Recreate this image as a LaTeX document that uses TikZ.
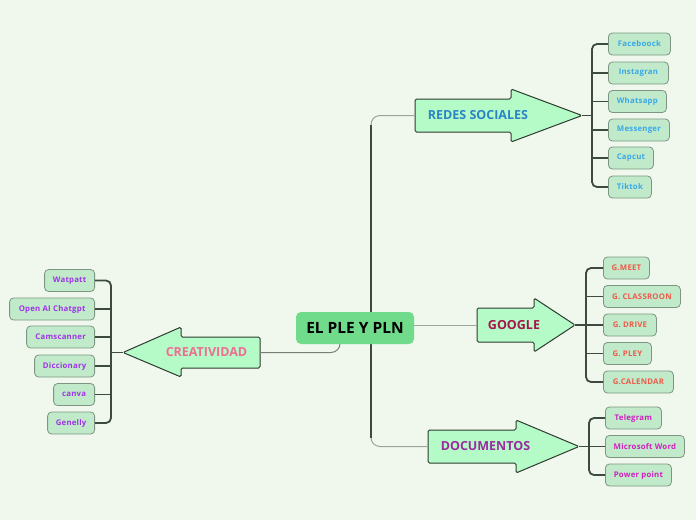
\documentclass[tikz,border=0pt]{standalone}
\usepackage{fontspec}
\setmainfont{Open Sans}
\newfontfamily\leaffont[LetterSpace=3]{Open Sans}
\definecolor{bg}{HTML}{F0F8ED}
\definecolor{arrowfill}{HTML}{B4FBC8}
\definecolor{arrowborder}{HTML}{2E3B30}
\definecolor{leaffill}{HTML}{C0EACA}
\definecolor{leafborder}{HTML}{7E9583}
\definecolor{cenfill}{HTML}{6FDB8B}
\definecolor{linkgray}{HTML}{9AA59C}
\definecolor{trunkdark}{HTML}{3C4A3F}
\definecolor{redescol}{HTML}{2B84C6}
\definecolor{redesleaf}{HTML}{3AA8E8}
\definecolor{googcol}{HTML}{A3174A}
\definecolor{googleaf}{HTML}{EE5A4A}
\definecolor{doccol}{HTML}{9C2AA0}
\definecolor{docleaf}{HTML}{D21FC0}
\definecolor{creacol}{HTML}{EE6E92}
\definecolor{crealeaf}{HTML}{A033E8}
\begin{document}
\begin{tikzpicture}[x=1pt,y=-1pt,
  leaf/.style={draw=leafborder, fill=leaffill, rounded corners=4pt, line width=0.8pt,
    minimum height=22pt, inner sep=0pt, font=\leaffont\fontsize{7.8}{9}\selectfont\bfseries},
  arrowshape/.style={draw=arrowborder, fill=arrowfill, line width=1pt, rounded corners=1.5pt},
  arrowtext/.style={font=\fontsize{12.5}{14}\selectfont\bfseries, inner sep=0pt},
  link/.style={draw=linkgray, line width=1pt},
  trunk/.style={draw=trunkdark, line width=2pt},
  brack/.style={draw=trunkdark, line width=1.8pt, rounded corners=5pt},
  stub/.style={draw=trunkdark, line width=1.8pt},
]
\useasboundingbox (0,0) rectangle (696,520);
\fill[bg] (0,0) rectangle (696,520);

% ---------- arrow shapes ----------
\draw[arrowshape] (415,99) -- (511,99) -- (511,89) -- (582,115.5) -- (511,142) -- (511,132) -- (415,132) -- cycle;
\draw[arrowshape] (477,308) -- (534,308) -- (534,298) -- (575,325) -- (534,352) -- (534,342) -- (477,342) -- cycle;
\draw[arrowshape] (428,430) -- (516,430) -- (516,420) -- (579,446.5) -- (516,473) -- (516,463) -- (428,463) -- cycle;
\draw[arrowshape] (260,337) -- (181,337) -- (181,327) -- (123,352.5) -- (181,377) -- (181,368) -- (260,368) -- cycle;

\node[arrowtext, text=redescol] (redes) at (478,115.5) {REDES SOCIALES};
\node[arrowtext, text=googcol] (goog) at (514,325) {GOOGLE};
\node[arrowtext, text=doccol] (docs) at (485.5,446.5) {DOCUMENTOS};
\node[arrowtext, text=creacol] (crea) at (206.5,352.5) {CREATIVIDAD};

\coordinate (redesin) at (415,115.5);
\coordinate (redestip) at (582,115.5);
\coordinate (googin) at (477,325);
\coordinate (googtip) at (575,325);
\coordinate (docin) at (428,446.5);
\coordinate (doctip) at (579,446.5);
\coordinate (creain) at (260,352.5);
\coordinate (creatip) at (123,352.5);

% ---------- trunk and links from centre ----------
\coordinate (tk) at (371,328);
\coordinate (cs) at (340,338);
\draw[link, rounded corners=9pt] (redesin) -| (tk) |- (docin);
\draw[trunk] ([yshift=-9pt]tk |- redesin) -- ([yshift=9pt]tk |- docin);
\draw[link, draw=trunkdark!70, rounded corners=9pt] (cs) |- (creain);

\node[fill=cenfill, rounded corners=5pt, minimum width=118pt, minimum height=32pt, inner sep=0pt,
  font=\fontsize{15.5}{17}\selectfont\bfseries] (cen) at (355,328) {EL PLE Y PLN};
\draw[link] (cen.east |- googin) -- (googin);

% ---------- REDES SOCIALES leaves ----------
\node[leaf, text=redesleaf, minimum width=62pt, anchor=west] (r1) at (608,44) {Faceboock};
\node[leaf, text=redesleaf, minimum width=60pt, anchor=west] (r2) at (608,73) {Instagran};
\node[leaf, text=redesleaf, minimum width=58pt, anchor=west] (r3) at (608,101.5) {Whatsapp};
\node[leaf, text=redesleaf, minimum width=61pt, anchor=west] (r4) at (608,130) {Messenger};
\node[leaf, text=redesleaf, minimum width=45pt, anchor=west] (r5) at (608,158) {Capcut};
\node[leaf, text=redesleaf, minimum width=43pt, anchor=west] (r6) at (608,187) {Tiktok};
\coordinate (rb) at (592,115.5);
\draw[stub] (redestip) -- (rb);
\draw[brack] (r1.west) -| (rb) |- (r6.west);
\foreach \n in {r2,r3,r4,r5} \draw[stub] (\n.west) -- (\n.west -| rb);

% ---------- GOOGLE leaves ----------
\node[leaf, text=googleaf, minimum width=46pt, anchor=west] (g1) at (603,268) {G.MEET};
\node[leaf, text=googleaf, minimum width=77pt, anchor=west] (g2) at (603,296.5) {G. CLASSROON};
\node[leaf, text=googleaf, minimum width=53pt, anchor=west] (g3) at (603,325) {G. DRIVE};
\node[leaf, text=googleaf, minimum width=48pt, anchor=west] (g4) at (603,353.5) {G. PLEY};
\node[leaf, text=googleaf, minimum width=70pt, anchor=west] (g5) at (603,382) {G.CALENDAR};
\coordinate (gb) at (586,325);
\draw[stub] (googtip) -- (gb);
\draw[brack] (g1.west) -| (gb) |- (g5.west);
\foreach \n in {g2,g3,g4} \draw[stub] (\n.west) -- (\n.west -| gb);

% ---------- DOCUMENTOS leaves ----------
\node[leaf, text=docleaf, minimum width=56pt, anchor=west] (d1) at (605,418) {Telegram};
\node[leaf, text=docleaf, minimum width=79pt, anchor=west] (d2) at (605,446.5) {Microsoft Word};
\node[leaf, text=docleaf, minimum width=66pt, anchor=west] (d3) at (605,475) {Power point};
\coordinate (db) at (589,446.5);
\draw[stub] (doctip) -- (db);
\draw[brack] (d1.west) -| (db) |- (d3.west);
\draw[stub] (d2.west) -- (d2.west -| db);

% ---------- CREATIVIDAD leaves ----------
\node[leaf, text=crealeaf, minimum width=50pt, anchor=east] (c1) at (95,280.5) {Watpatt};
\node[leaf, text=crealeaf, minimum width=85pt, anchor=east] (c2) at (95,309) {Open AI Chatgpt};
\node[leaf, text=crealeaf, minimum width=68pt, anchor=east] (c3) at (95,337) {Camscanner};
\node[leaf, text=crealeaf, minimum width=60pt, anchor=east] (c4) at (95,366) {Diccionary};
\node[leaf, text=crealeaf, minimum width=41pt, anchor=east] (c5) at (95,394.5) {canva};
\node[leaf, text=crealeaf, minimum width=47pt, anchor=east] (c6) at (95,423) {Genelly};
\coordinate (cb) at (111,352.5);
\draw[stub] (creatip) -- (cb);
\draw[brack] (c1.east) -| (cb) |- (c6.east);
\foreach \n in {c2,c3,c4,c5} \draw[stub] (\n.east) -- (\n.east -| cb);
\end{tikzpicture}
\end{document}
